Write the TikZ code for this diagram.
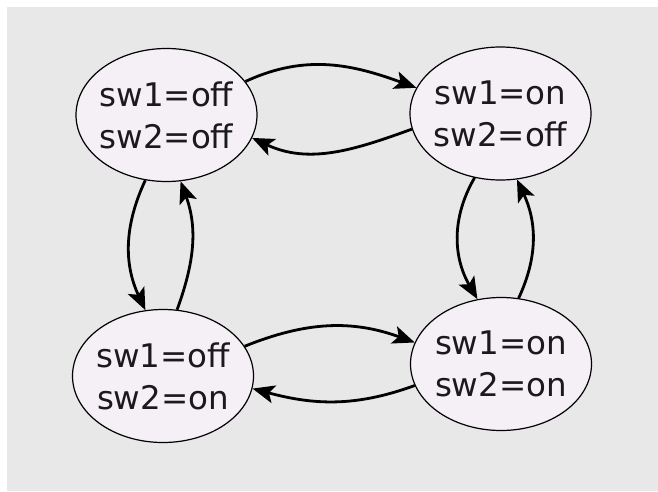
\documentclass[tikz,border=0pt]{standalone}
\usepackage{fontspec}
\setmainfont{DejaVu Sans}
\usetikzlibrary{shapes.geometric,arrows.meta}

\definecolor{bggray}{RGB}{232,232,232}
\definecolor{statefill}{RGB}{245,239,246}
\definecolor{labeltext}{RGB}{26,26,26}

\tikzset{
  state/.style={ellipse, draw=black, line width=1.2pt, fill=statefill,
    minimum width=181pt, minimum height=133pt, inner xsep=-6pt, inner ysep=0pt,
    align=center, text=labeltext,
    font=\fontsize{32.5pt}{42pt}\selectfont},
  trans/.style={line width=2.8pt, draw=black,
    -{Stealth[length=22pt, width=18pt, inset=5pt]}},
}

\begin{document}
\begin{tikzpicture}[x=1pt, y=1pt]
  % canvas and grey backdrop
  \useasboundingbox (0,0) rectangle (658,491);
  \fill[white] (0,0) rectangle (658,491);
  \fill[bggray] (7,0) rectangle (658,484);

  % the four switch states
  \node[state] (ff) at (166.5,376) {sw1=off\\sw2=off};
  \node[state] (nf) at (500.5,377.5) {sw1=on\\sw2=off};
  \node[state] (fn) at (163,115) {sw1=off\\sw2=on};
  \node[state] (nn) at (501,127) {sw1=on\\sw2=on};

  % transitions along the top
  \draw[trans] (ff.23) to[out=25, in=160] (nf.163);
  \draw[trans] (nf.190) to[out=200, in=-25] (ff.-15);

  % transitions along the bottom
  \draw[trans] (fn.20) to[out=22, in=160] (nn.166);
  \draw[trans] (nn.194) to[out=200, in=-15] (fn.-8);

  % transitions on the left
  \draw[trans] (ff.252) to[out=245, in=115] (fn.105);
  \draw[trans] (fn.78) to[out=70, in=290] (ff.282);

  % transitions on the right
  \draw[trans] (nf.248) to[out=240, in=120] (nn.110);
  \draw[trans] (nn.75) to[out=65, in=295] (nf.284);
\end{tikzpicture}
\end{document}
